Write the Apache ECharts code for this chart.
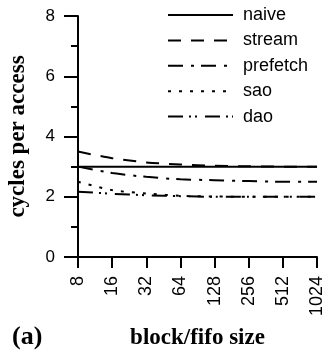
<!DOCTYPE html>
<html><head><meta charset="utf-8">
<script src="https://cdn.jsdelivr.net/npm/echarts@6/dist/echarts.min.js"></script>
<style>html,body{margin:0;padding:0;background:#fff}#c{width:324px;height:360px}</style>
</head><body><div id="c"></div>
<script>
const categories = ['8','16','32','64','128','256','512','1024'];
const naive    = [3.0, 3.0, 3.0, 3.0, 3.0, 3.0, 3.0, 3.0];
const stream   = [3.5, 3.28, 3.14, 3.07, 3.03, 3.01, 3.0, 3.0];
const prefetch = [3.0, 2.79, 2.66, 2.58, 2.55, 2.52, 2.5, 2.5];
const sao      = [2.5, 2.22, 2.11, 2.03, 2.01, 2.0, 2.0, 2.0];
const dao      = [2.17, 2.1, 2.05, 2.02, 2.0, 2.0, 2.0, 2.0];
const yTicks = [0, 2, 4, 6, 8];

const sans = '"Liberation Sans", Arial, sans-serif';
const serif = '"Liberation Serif", "Times New Roman", serif';
const chart = echarts.init(document.getElementById('c'));
function mk(name, data, type) {
  return {name, type: 'line', data, symbol: 'none', smooth: 0.3,
    itemStyle: {color: '#000'},
    lineStyle: {color: '#000', width: 2, type: type}};
}
chart.setOption({
  animation: false,
  grid: {left: 78, right: 7, top: 16, bottom: 103, containLabel: false, outerBoundsMode: 'none'},
  legend: {
    orient: 'vertical', left: 167, top: 6, padding: 0, itemWidth: 65, itemHeight: 14, itemGap: 7.4,
    itemStyle: {opacity: 0},
    textStyle: {fontFamily: sans, fontSize: 18, color: '#000', lineHeight: 18, padding: [0,0,0,5]},
    data: ['naive','stream','prefetch','sao','dao']
  },
  xAxis: {
    type: 'category', data: categories, boundaryGap: false,
    axisLine: {lineStyle: {color: '#000', width: 2}},
    axisTick: {length: 11, lineStyle: {color: '#000', width: 2}},
    axisLabel: {rotate: 90, fontFamily: sans, fontSize: 18, color: '#000', margin: 19},
    name: 'block/fifo size', nameLocation: 'middle', nameGap: 70,
    nameTextStyle: {fontFamily: serif, fontWeight: 'bold', fontSize: 23, color: '#000'}
  },
  yAxis: {
    type: 'value', min: yTicks[0], max: yTicks[yTicks.length-1], interval: 2,
    axisLine: {show: true, lineStyle: {color: '#000', width: 2}},
    axisTick: {show: true, inside: false, length: 14, lineStyle: {color: '#000', width: 2}},
    minorTick: {show: true, splitNumber: 2, length: 7, lineStyle: {color: '#000', width: 2}},
    splitLine: {show: false},
    axisLabel: {fontFamily: sans, fontSize: 17, color: '#000', margin: 23},
    name: 'cycles per access', nameLocation: 'middle', nameGap: 48,
    nameTextStyle: {fontFamily: serif, fontWeight: 'bold', fontSize: 23, color: '#000'}
  },
  graphic: [{type: 'text', left: 12, top: 324,
    style: {text: '(a)', font: 'bold 26px ' + serif, fill: '#000'}}],
  series: [
    mk('naive', naive, 'solid'),
    mk('stream', stream, [13, 10]),
    mk('prefetch', prefetch, [15, 8, 3, 7]),
    mk('sao', sao, [3, 8]),
    mk('dao', dao, [15, 6, 2, 4, 2, 8])
  ]
});
</script></body></html>
